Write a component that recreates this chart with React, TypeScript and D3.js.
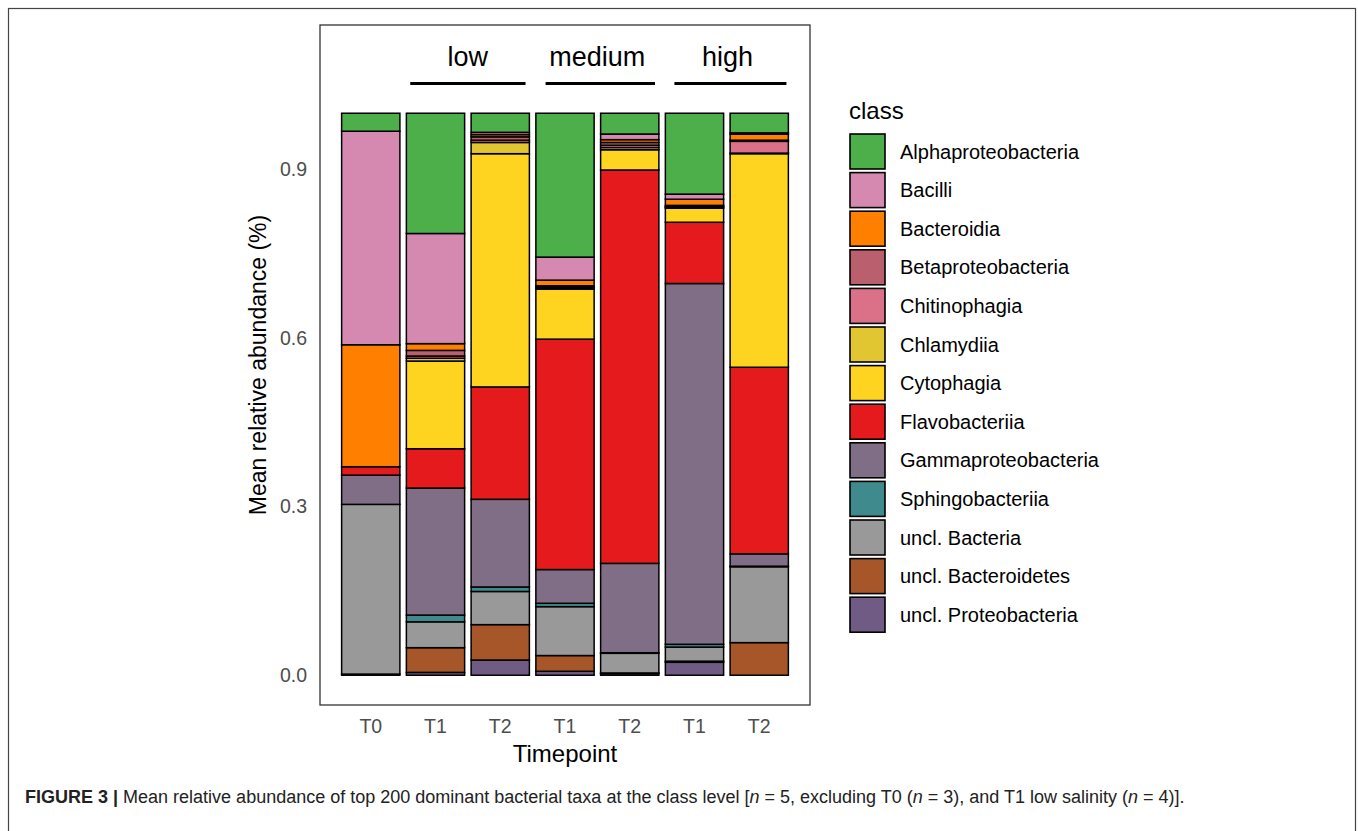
import { useEffect, useRef } from "react";
import * as d3 from "d3";

// Bars in plotting order (T0 plus three salinity groups x two timepoints)
const barIds = ["T0", "T1_low", "T2_low", "T1_medium", "T2_medium", "T1_high", "T2_high"];
const barLabels = ["T0", "T1", "T2", "T1", "T2", "T1", "T2"];

// salinity groups drawn above the bars: [first bar, last bar, left offset, right offset] in steps
const groupNames = ["low", "medium", "high"];
const groupSpans: [number, number, number, number][] = [
  [1, 2, -0.39, 0.39],
  [3, 4, -0.3, 0.39],
  [5, 6, -0.31, 0.42],
];

const classNames = [
  "Alphaproteobacteria",
  "Bacilli",
  "Bacteroidia",
  "Betaproteobacteria",
  "Chitinophagia",
  "Chlamydiia",
  "Cytophagia",
  "Flavobacteriia",
  "Gammaproteobacteria",
  "Sphingobacteriia",
  "uncl. Bacteria",
  "uncl. Bacteroidetes",
  "uncl. Proteobacteria",
];

const classColors = [
  "#4DAF4A",
  "#D689B0",
  "#FF7F00",
  "#B95F6D",
  "#DB7089",
  "#E1C531",
  "#FED421",
  "#E41A1C",
  "#7F6E85",
  "#3E8A8D",
  "#999999",
  "#A65628",
  "#705B85",
];

// mean relative abundance per bar (same order as barIds)
const alphaproteobacteria = [0.032, 0.214, 0.034, 0.256, 0.037, 0.144, 0.035];
const bacilli = [0.38, 0.196, 0.004, 0.041, 0.01, 0.009, 0.002];
const bacteroidia = [0.217, 0.012, 0.004, 0.01, 0.005, 0.011, 0.011];
const betaproteobacteria = [0, 0.01, 0.006, 0.002, 0.005, 0.002, 0.002];
const chitinophagia = [0, 0.004, 0.004, 0.002, 0.004, 0.001, 0.021];
const chlamydiia = [0, 0.005, 0.02, 0.002, 0.004, 0.002, 0.001];
const cytophagia = [0, 0.156, 0.415, 0.089, 0.036, 0.025, 0.38];
const flavobacteriia = [0.015, 0.07, 0.2, 0.41, 0.7, 0.109, 0.332];
const gammaproteobacteria = [0.052, 0.226, 0.156, 0.06, 0.159, 0.642, 0.022];
const sphingobacteriia = [0, 0.012, 0.008, 0.006, 0.001, 0.005, 0.001];
const unclBacteria = [0.302, 0.046, 0.059, 0.087, 0.035, 0.025, 0.135];
const unclBacteroidetes = [0, 0.044, 0.063, 0.028, 0.001, 0.002, 0.058];
const unclProteobacteria = [0.002, 0.005, 0.027, 0.007, 0.003, 0.023, 0];

const classValues = [
  alphaproteobacteria,
  bacilli,
  bacteroidia,
  betaproteobacteria,
  chitinophagia,
  chlamydiia,
  cytophagia,
  flavobacteriia,
  gammaproteobacteria,
  sphingobacteriia,
  unclBacteria,
  unclBacteroidetes,
  unclProteobacteria,
];

const yTicks = [0, 0.3, 0.6, 0.9];

const WIDTH = 1358;
const HEIGHT = 831;
const FONT = "'Liberation Sans', Arial, Helvetica, sans-serif";

const App: React.FC = () => {
  const svgRef = useRef<SVGSVGElement>(null);

  useEffect(() => {
    if (!svgRef.current) return;
    const svg = d3.select(svgRef.current);
    svg.selectAll("*").remove();

    // outer figure frame
    svg
      .append("rect")
      .attr("x", 8.5)
      .attr("y", 8.5)
      .attr("width", 1347)
      .attr("height", 840)
      .attr("fill", "none")
      .attr("stroke", "#444")
      .attr("stroke-width", 1.2);

    const panel = { left: 320, right: 810, top: 25, bottom: 705 };

    const x = d3
      .scaleBand<string>()
      .domain(barIds)
      .range([panel.left, panel.right])
      .paddingInner(0.1)
      .paddingOuter(0.334);

    const y = d3
      .scaleLinear()
      .domain([-0.053, 1.157])
      .range([panel.bottom, panel.top]);

    // table for the stack
    const table = barIds.map((id, i) => {
      const row: Record<string, number | string> = { id };
      classNames.forEach((c, k) => {
        row[c] = classValues[k][i];
      });
      return row;
    });

    const keys = [...classNames].reverse(); // ggplot puts the first level on top
    const series = d3.stack<Record<string, number | string>>().keys(keys)(table as any);
    const color = d3.scaleOrdinal<string, string>().domain(classNames).range(classColors);

    const layers = svg
      .selectAll(".layer")
      .data(series)
      .enter()
      .append("g")
      .attr("class", "layer")
      .attr("fill", (d) => color(d.key));

    layers
      .selectAll("rect")
      .data((d) => d.filter((s) => s[1] - s[0] > 0))
      .enter()
      .append("rect")
      .attr("x", (d) => x(d.data.id as string)!)
      .attr("width", x.bandwidth())
      .attr("y", (d) => y(d[1]))
      .attr("height", (d) => y(d[0]) - y(d[1]))
      .attr("stroke", "#000")
      .attr("stroke-width", 1.5);

    // panel border
    svg
      .append("rect")
      .attr("x", panel.left)
      .attr("y", panel.top)
      .attr("width", panel.right - panel.left)
      .attr("height", panel.bottom - panel.top)
      .attr("fill", "none")
      .attr("stroke", "#333")
      .attr("stroke-width", 1.3);

    // salinity group labels
    const step = x.step();
    groupSpans.forEach(([a, b, off0, off1], i) => {
      const x0 = x(barIds[a])! + x.bandwidth() / 2 + off0 * step;
      const x1 = x(barIds[b])! + x.bandwidth() / 2 + off1 * step;
      svg
        .append("line")
        .attr("x1", x0)
        .attr("x2", x1)
        .attr("y1", y(1.053))
        .attr("y2", y(1.053))
        .attr("stroke", "#000")
        .attr("stroke-width", 3);
      svg
        .append("text")
        .attr("x", (x0 + x1) / 2 - (i === 0 ? 0 : 3))
        .attr("y", y(1.1))
        .attr("dy", "0.35em")
        .attr("text-anchor", "middle")
        .attr("font-family", FONT)
        .attr("font-size", 27)
        .attr("fill", "#000")
        .text(groupNames[i]);
    });

    // y axis labels
    svg
      .selectAll(".ytick")
      .data(yTicks)
      .enter()
      .append("text")
      .attr("class", "ytick")
      .attr("x", panel.left - 13)
      .attr("y", (d) => y(d))
      .attr("dy", "0.35em")
      .attr("text-anchor", "end")
      .attr("font-family", FONT)
      .attr("font-size", 19.5)
      .attr("fill", "#4d4d4d")
      .text((d) => d3.format(".1f")(d));

    // x axis labels
    svg
      .selectAll(".xtick")
      .data(barIds)
      .enter()
      .append("text")
      .attr("class", "xtick")
      .attr("x", (d) => x(d)! + x.bandwidth() / 2)
      .attr("y", panel.bottom + 28)
      .attr("text-anchor", "middle")
      .attr("font-family", FONT)
      .attr("font-size", 19.5)
      .attr("fill", "#4d4d4d")
      .text((_, i) => barLabels[i]);

    svg
      .append("text")
      .attr("x", (panel.left + panel.right) / 2)
      .attr("y", panel.bottom + 57)
      .attr("text-anchor", "middle")
      .attr("font-family", FONT)
      .attr("font-size", 24)
      .attr("fill", "#000")
      .text("Timepoint");

    const ym = (panel.top + panel.bottom) / 2;
    svg
      .append("text")
      .attr("transform", `translate(266, ${ym}) rotate(-90)`)
      .attr("text-anchor", "middle")
      .attr("font-family", FONT)
      .attr("font-size", 23)
      .attr("fill", "#000")
      .text("Mean relative abundance (%)");

    // legend
    const legend = svg.append("g").attr("transform", "translate(849, 0)");
    legend
      .append("text")
      .attr("x", 0)
      .attr("y", 119)
      .attr("font-family", FONT)
      .attr("font-size", 24)
      .attr("fill", "#000")
      .text("class");

    const keySize = 37;
    const keyStep = 38.6;
    const items = legend
      .selectAll(".item")
      .data(classNames)
      .enter()
      .append("g")
      .attr("class", "item")
      .attr("transform", (_, i) => `translate(0, ${134 + i * keyStep})`);

    items
      .append("rect")
      .attr("x", 1)
      .attr("y", 0)
      .attr("width", keySize - 2)
      .attr("height", keySize - 2)
      .attr("fill", (d) => color(d))
      .attr("stroke", "#000")
      .attr("stroke-width", 1.6);

    items
      .append("text")
      .attr("x", 51)
      .attr("y", keySize / 2 - 1)
      .attr("dy", "0.35em")
      .attr("font-family", FONT)
      .attr("font-size", 20)
      .attr("fill", "#000")
      .text((d) => d);

    // caption
    const cap = svg
      .append("text")
      .attr("x", 25)
      .attr("y", 803)
      .attr("font-family", FONT)
      .attr("font-size", 18)
      .attr("fill", "#222");
    cap.append("tspan").attr("font-weight", "bold").text("FIGURE 3 | ");
    const parts: [string, boolean][] = [
      ["Mean relative abundance of top 200 dominant bacterial taxa at the class level [", false],
      ["n", true],
      [" = 5, excluding T0 (", false],
      ["n", true],
      [" = 3), and T1 low salinity (", false],
      ["n", true],
      [" = 4)].", false],
    ];
    parts.forEach(([t, it]) => {
      cap
        .append("tspan")
        .attr("font-style", it ? "italic" : "normal")
        .text(t);
    });
  }, []);

  return (
    <svg
      ref={svgRef}
      width={WIDTH}
      height={HEIGHT}
      style={{ position: "absolute", left: 0, top: 0, background: "#fff" }}
    />
  );
};

export default App;
